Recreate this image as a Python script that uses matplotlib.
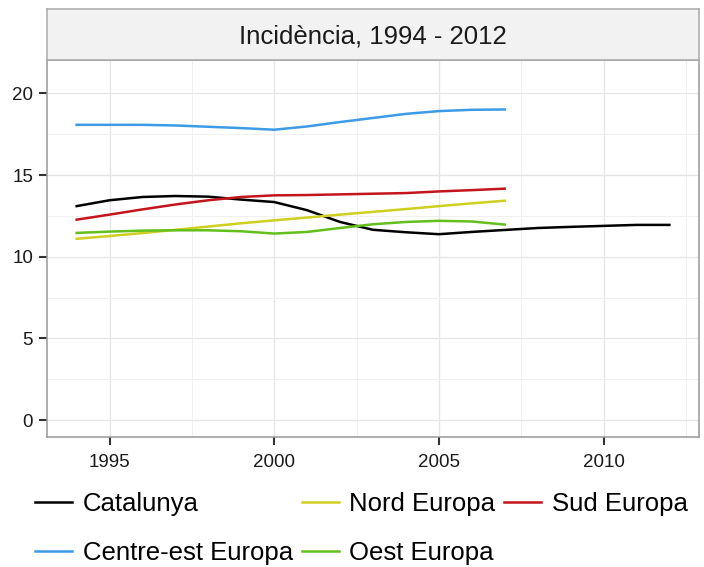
import matplotlib
matplotlib.use('Agg')
import matplotlib.pyplot as plt
import numpy as np
from matplotlib.ticker import MultipleLocator

plt.rcParams['font.family'] = ['Liberation Sans', 'DejaVu Sans']

years = np.arange(1994, 2013)
years_eu = np.arange(1994, 2008)

catalunya = [13.1, 13.46, 13.66, 13.72, 13.68, 13.5, 13.35, 12.85, 12.13, 11.65,
             11.5, 11.38, 11.52, 11.64, 11.76, 11.83, 11.89, 11.95, 11.95]
centre_est = [18.08, 18.08, 18.08, 18.04, 17.96, 17.88, 17.78, 17.98, 18.25, 18.5,
              18.75, 18.92, 19.0, 19.02]
nord = [11.1, 11.27, 11.45, 11.65, 11.85, 12.05, 12.23, 12.4, 12.58, 12.75,
        12.92, 13.1, 13.27, 13.43]
oest = [11.46, 11.54, 11.6, 11.62, 11.62, 11.56, 11.42, 11.52, 11.76, 11.99,
        12.13, 12.2, 12.16, 11.97]
sud = [12.27, 12.58, 12.9, 13.2, 13.46, 13.66, 13.76, 13.78, 13.82, 13.86,
       13.9, 14.0, 14.08, 14.17]

fig = plt.figure(figsize=(7.04, 5.67), dpi=100)
ax = fig.add_axes([47 / 704, (567 - 437) / 567, (699 - 47) / 704, (437 - 60) / 567])

lw = 1.8
ax.plot(years, catalunya, color='black', lw=lw, label='Catalunya')
ax.plot(years_eu, centre_est, color='#3C9BE6', lw=lw, label='Centre-est Europa')
ax.plot(years_eu, nord, color='#CFCF1F', lw=lw, label='Nord Europa')
ax.plot(years_eu, oest, color='#62BF1C', lw=lw, label='Oest Europa')
ax.plot(years_eu, sud, color='#C4141C', lw=lw, label='Sud Europa')

ax.set_xlim(1993.1, 2012.9)
ax.set_ylim(-1.04, 22.05)
ax.xaxis.set_major_locator(MultipleLocator(5))
ax.xaxis.set_minor_locator(MultipleLocator(2.5))
ax.yaxis.set_major_locator(MultipleLocator(5))
ax.yaxis.set_minor_locator(MultipleLocator(2.5))
ax.set_xticks([1995, 2000, 2005, 2010])
ax.grid(which='major', color='#E6E6E6', lw=1.0)
ax.grid(which='minor', color='#F0F0F0', lw=0.7)
ax.set_axisbelow(True)
for s in ax.spines.values():
    s.set_color('#999999')
    s.set_linewidth(1.1)
ax.tick_params(which='major', length=6, width=1.5, color='#333333', labelsize=13.5,
               labelcolor='#1a1a1a')
ax.tick_params(axis='x', pad=6)
ax.tick_params(axis='y', pad=4)
ax.tick_params(which='minor', length=0)

# facet strip
strip = fig.add_axes([47 / 704, (567 - 60) / 567, (699 - 47) / 704, 51 / 567])
strip.set_facecolor('#F2F2F2')
strip.set_xticks([])
strip.set_yticks([])
for s in strip.spines.values():
    s.set_color('#AAAAAA')
    s.set_linewidth(1.1)
strip.text(0.5, 0.47, 'Incidència, 1994 - 2012', ha='center', va='center',
           fontsize=18.5, color='#1a1a1a', transform=strip.transAxes)

fig.legend(loc='upper left', bbox_to_anchor=(35 / 704, (567 - 492) / 567), ncol=3,
           frameon=False, fontsize=18.5, handlelength=1.45, handletextpad=0.4,
           columnspacing=0.35, labelspacing=0.98, borderpad=0, borderaxespad=0)

fig.savefig('out.png', dpi=100)
